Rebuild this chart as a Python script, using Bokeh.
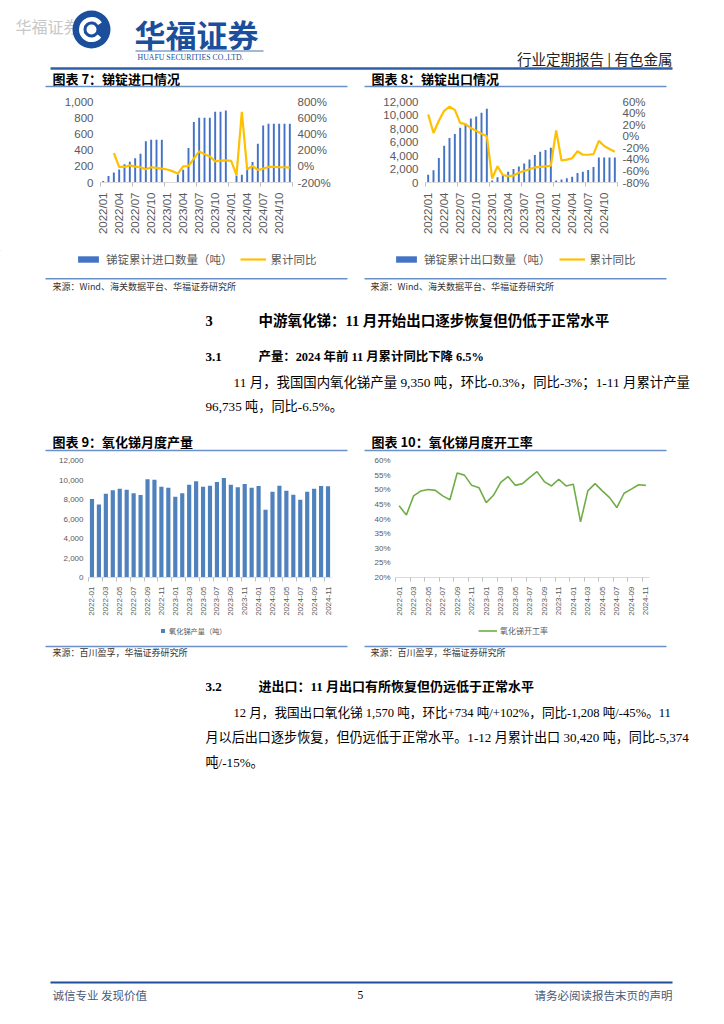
import math
from bokeh.plotting import figure
from bokeh.models import (Range1d, LinearAxis, FixedTicker, Legend, LegendItem, Spacer,
                          NumeralTickFormatter, PrintfTickFormatter)
from bokeh.layouts import column, row
from bokeh.core.properties import value
from bokeh.embed import file_html
from bokeh.resources import INLINE

# ---------------- data ----------------
months_slash = [f"{y}/{m:02d}" for y in (2022, 2023, 2024) for m in range(1, 13)]
import_qty = [20, 80, 125, 160, 225, 255, 300, 355, 510, 527, 527, 527,
              3, 3, 100, 158, 427, 747, 800, 800, 800, 875, 875, 888,
              0, 85, 95, 160, 253, 477, 705, 726, 726, 726, 726, 726]
import_yoy = [None, None, 163, -8, -8, 12, -4, -12, -37, -12, -20, -29,
              -40, -60, -90, 0, 4, 94, 184, 150, 122, 61, 69, 73,
              66, -110, 673, -37, 4, -45, -29, -8, -8, -12, -12, -16]
export_qty = [1165, 1800, 3640, 5440, 6600, 7180, 8100, 8690, 9470, 9760, 10340, 10920,
              290, 780, 1165, 1600, 1990, 2380, 2820, 3400, 4080, 4560, 4800, 5150,
              290, 440, 630, 870, 1410, 1600, 1840, 2280, 3690, 3690, 3690, 3690]
export_yoy = [37.8, 5.6, 26.7, 44, 51, 45.6, 23, 21, 14, 9.4, 4.4, 0,
              -73, -52, -67, -69, -68, -63, -60, -57, -54, -53, -52, -51,
              10, -42, -40.5, -38, -26, -32, -32, -31, -8, -17, -22, -27]
months_dash = [f"{y}-{m:02d}" for y in (2022, 2023, 2024) for m in range(1, 13)][:35]
oxide_output = [8050, 7500, 8600, 8940, 9110, 9010, 8630, 8460, 10070, 10030, 9320, 9210,
                8290, 8630, 9520, 9860, 9320, 9420, 9790, 10200, 9520, 9250, 9590, 9210,
                9380, 6950, 8800, 9420, 8900, 8490, 7980, 8800, 9110, 9380, 9350]
oxide_util = [44.5, 41.4, 47.9, 49.6, 50.1, 49.8, 47.9, 46.6, 55.7, 55.0, 51.5, 50.7,
              45.6, 48.1, 52.5, 54.5, 51.5, 52.1, 54.2, 56.2, 52.8, 51.3, 53.6, 51.3,
              51.9, 39.0, 49.6, 52.1, 49.6, 47.3, 43.9, 48.8, 50.2, 51.7, 51.5]

legend_import = ["锑锭累计进口数量（吨）", "累计同比"]
legend_export = ["锑锭累计出口数量（吨）", "累计同比"]
legend_output = "氧化锑产量（吨）"
legend_util = "氧化锑开工率"

CJK = "Noto Sans CJK SC"
BODY = "Liberation Serif, Noto Sans CJK SC"
NUM = "Liberation Sans"
GRAY = "#595959"
BLUE_LINE = "#6A8FCB"
BAR1 = "#4472C4"
BAR2 = "#4F81BD"
YELLOW = "#FFC000"
GREEN = "#70AD47"
PAGE_W = 716


def blank(top, height, width=PAGE_W, left=0):
    p = figure(width=width, height=height, x_range=Range1d(left, left + width),
               y_range=Range1d(top + height, top), output_backend="svg",
               toolbar_location=None, min_border=0, x_axis_location=None,
               y_axis_location=None, outline_line_color=None)
    p.xgrid.visible = False
    p.ygrid.visible = False
    return p


def txt(p, x, y, s, size, font=CJK, color="#000000", style="normal", align="left"):
    p.text(x=[x], y=[y], text=[s], text_font=value(font), text_font_size=f"{size}px",
           text_color=color, text_font_style=style, text_align=align,
           text_baseline="middle")


def hline(p, x0, x1, y, color, width):
    p.segment(x0=[x0], y0=[y], x1=[x1], y1=[y], line_color=color, line_width=width)


def add_legend(p, entries, loc, fs, gw, gh, lh, spacing=8, standoff=5):
    """Legend keys for a chart, drawn in the page strip under the chart.
    The key renderers hold a single point placed outside the strip's visible range."""
    items = []
    for label, kind, color, lw in entries:
        if kind == "bar":
            r = p.vbar(x=[-500], top=[-500], bottom=[-510], width=1, fill_color=color,
                       line_color=None)
        else:
            r = p.line(x=[-510, -500], y=[-500, -500], line_color=color, line_width=lw)
        items.append(LegendItem(label=label, renderers=[r]))
    p.add_layout(Legend(items=items, orientation="horizontal", location=loc,
                        glyph_width=gw, glyph_height=gh, label_text_font_size=fs,
                        label_text_color=GRAY, label_text_font=CJK,
                        label_height=lh, label_standoff=standoff, spacing=spacing,
                        padding=0, margin=0, border_line_color=None,
                        background_fill_alpha=0))


def style_chart(p, fs, standoff_y, standoff_x):
    p.xgrid.visible = False
    p.ygrid.visible = False
    for ax in p.yaxis:
        ax.axis_line_color = None
        ax.major_tick_line_color = None
        ax.minor_tick_line_color = None
        ax.major_tick_out = 0
        ax.major_tick_in = 0
        ax.major_label_text_font = NUM
        ax.major_label_text_font_size = fs
        ax.major_label_text_color = GRAY
        ax.major_label_standoff = standoff_y
    for ax in p.xaxis:
        ax.axis_line_color = "#D9D9D9"
        ax.major_tick_line_color = None
        ax.major_tick_out = 0
        ax.major_tick_in = 0
        ax.minor_tick_line_color = "#BFBFBF"
        ax.minor_tick_out = 4
        ax.minor_tick_in = 0
        ax.major_label_text_font = NUM
        ax.major_label_text_font_size = fs
        ax.major_label_text_color = GRAY
        ax.major_label_orientation = math.pi / 2
        ax.major_label_standoff = standoff_x


def trade_chart(qty, yoy, yr, yr2, yticks, yticks2, border_l, border_r):
    n = len(qty)
    p = figure(width=300, height=158, x_range=Range1d(-0.5, n - 0.5), y_range=Range1d(*yr),
               output_backend="svg", toolbar_location=None, min_border_left=border_l,
               min_border_right=border_r, min_border_top=9, min_border_bottom=68,
               outline_line_color=None)
    p.extra_y_ranges = {"yoy": Range1d(*yr2)}
    p.vbar(x=list(range(n)), top=qty, width=0.36, fill_color=BAR1, line_color=None)
    pts = [(i, v) for i, v in enumerate(yoy) if v is not None]
    p.line(x=[a for a, _ in pts], y=[b for _, b in pts], y_range_name="yoy",
           line_color=YELLOW, line_width=2.2)
    p.add_layout(LinearAxis(y_range_name="yoy", ticker=FixedTicker(ticks=yticks2),
                            formatter=PrintfTickFormatter(format="%d%%")), "right")
    p.yaxis[0].ticker = FixedTicker(ticks=yticks)
    p.yaxis[0].formatter = NumeralTickFormatter(format="0,0")
    major = list(range(0, n, 3))
    p.xaxis.ticker = FixedTicker(ticks=major, minor_ticks=[k - 0.5 for k in range(0, n + 1, 6)])
    p.xaxis.major_label_overrides = {i: months_slash[i] for i in major}
    style_chart(p, "11.5px", 7, 6)
    p.yaxis[1].major_label_standoff = 5
    return p


p7 = trade_chart(import_qty, import_yoy, (0, 1000), (-200, 800),
                 [0, 200, 400, 600, 800, 1000], [-200, 0, 200, 400, 600, 800], 52, 56)
p8 = trade_chart(export_qty, export_yoy, (0, 12000), (-80, 60),
                 [0, 2000, 4000, 6000, 8000, 10000, 12000], [-80, -60, -40, -20, 0, 20, 40, 60],
                 59, 49)

# chart 9 : monthly output
n2 = len(oxide_output)
p9 = figure(width=310, height=167, x_range=Range1d(-0.5, n2 - 0.5), y_range=Range1d(0, 12000),
            output_backend="svg", toolbar_location=None, min_border_left=48,
            min_border_right=19, min_border_top=7, min_border_bottom=43,
            outline_line_color=None)
p9.vbar(x=list(range(n2)), top=oxide_output, width=0.6, fill_color=BAR2, line_color=None)
p9.yaxis.ticker = FixedTicker(ticks=[0, 2000, 4000, 6000, 8000, 10000, 12000])
p9.yaxis.formatter = NumeralTickFormatter(format="0,0")
major2 = list(range(0, n2, 2))
p9.xaxis.ticker = FixedTicker(ticks=major2, minor_ticks=[k - 0.5 for k in range(0, n2 + 1, 2)])
p9.xaxis.major_label_overrides = {i: months_dash[i] for i in major2}
style_chart(p9, "8px", 5, 5)

# chart 10 : utilisation
p10 = figure(width=350, height=167, x_range=Range1d(-0.5, n2 - 0.5), y_range=Range1d(20, 60),
             output_backend="svg", toolbar_location=None, min_border_left=45,
             min_border_right=51, min_border_top=7, min_border_bottom=43,
             outline_line_color=None)
p10.line(x=list(range(n2)), y=oxide_util, line_color=GREEN, line_width=1.6)
p10.yaxis.ticker = FixedTicker(ticks=[20, 25, 30, 35, 40, 45, 50, 55, 60])
p10.yaxis.formatter = PrintfTickFormatter(format="%d%%")
p10.xaxis.ticker = FixedTicker(ticks=major2, minor_ticks=[k - 0.5 for k in range(0, n2 + 1, 2)])
p10.xaxis.major_label_overrides = {i: months_dash[i] for i in major2}
style_chart(p10, "8px", 5, 5)

# ---------------- page texts ----------------
top = blank(0, 92)
txt(top, 15, 25, "华福证券", 16, color="#C8C8C8")
top.circle(x=[91], y=[29], radius=19, fill_color="#1B4F9C", line_color=None)
top.annular_wedge(x=[91], y=[29], inner_radius=8, outer_radius=12.5,
                  start_angle=0.6, end_angle=5.6, fill_color="white", line_color=None)
top.circle(x=[91], y=[29], radius=5, fill_color="white", line_color=None)
txt(top, 134, 33, "华福证券", 31, color="#1B4F9C", style="bold")
hline(top, 135, 263, 50.5, "#1B4F9C", 0.8)
txt(top, 137, 57, "HUAFU SECURITIES CO.,LTD.", 7.8, font="Liberation Serif", color="#1B4F9C")
txt(top, 672, 58, "行业定期报告 | 有色金属", 14.5, color="#222222", align="right")
hline(top, 50, 672, 68, "#2F5FA8", 2.5)
txt(top, 52, 78, "图表 7：锑锭进口情况", 13, style="bold")
txt(top, 371, 78, "图表 8：锑锭出口情况", 13, style="bold")
hline(top, 45, 347, 86, BLUE_LINE, 1.5)
hline(top, 364, 666, 86, BLUE_LINE, 1.5)

MID_TOP, MID_H = 250, 203
mid = blank(MID_TOP, MID_H)
add_legend(mid, [(legend_import[0], "bar", BAR1, 0), (legend_import[1], "line", YELLOW, 2.2)],
           (75, MID_H - 17), "11.5px", 26, 8, 16, spacing=7)
add_legend(mid, [(legend_export[0], "bar", BAR1, 0), (legend_export[1], "line", YELLOW, 2.2)],
           (393, MID_H - 17), "11.5px", 26, 8, 16, spacing=8)
hline(mid, 45, 347, 278.3, BLUE_LINE, 1.5)
hline(mid, 364, 666, 278.3, BLUE_LINE, 1.5)
txt(mid, 52, 286, "来源：Wind、海关数据平台、华福证券研究所", 9, color="#333333")
txt(mid, 370, 286, "来源：Wind、海关数据平台、华福证券研究所", 9, color="#333333")
txt(mid, 205, 320, "3", 14.5, font=BODY, style="bold")
txt(mid, 258, 320, "中游氧化锑：11 月开始出口逐步恢复但仍低于正常水平", 14.5, font=BODY, style="bold")
txt(mid, 205, 356, "3.1", 13, font=BODY, style="bold")
txt(mid, 258, 356, "产量：2024 年前 11 月累计同比下降 6.5%", 12.4, font=BODY, style="bold")
txt(mid, 233, 382, "11 月，我国国内氧化锑产量 9,350 吨，环比-0.3%，同比-3%；1-11 月累计产量", 13.4, font=BODY)
txt(mid, 205, 406, "96,735 吨，同比-6.5%。", 13.2, font=BODY)
txt(mid, 52, 440.5, "图表 9：氧化锑月度产量", 13, style="bold")
txt(mid, 371, 440.5, "图表 10：氧化锑月度开工率", 13, style="bold")
hline(mid, 45, 347, 450, BLUE_LINE, 1.5)
hline(mid, 364, 666, 450, BLUE_LINE, 1.5)

BOT_TOP, BOT_H = 620, 396
bot = blank(BOT_TOP, BOT_H)
add_legend(bot, [(legend_output, "bar", BAR2, 0)], (160, BOT_H - 16), "7.2px", 5, 5, 11,
           standoff=4)
add_legend(bot, [(legend_util, "line", GREEN, 1.6)], (478, BOT_H - 16), "8px", 19, 5, 11,
           standoff=3)
hline(bot, 45, 347, 646, BLUE_LINE, 1.5)
hline(bot, 364, 666, 646, BLUE_LINE, 1.5)
txt(bot, 52, 652, "来源：百川盈孚，华福证券研究所", 9, color="#333333")
txt(bot, 370, 652, "来源：百川盈孚，华福证券研究所", 9, color="#333333")
txt(bot, 205, 686, "3.2", 13, font=BODY, style="bold")
txt(bot, 258, 686, "进出口：11 月出口有所恢复但仍远低于正常水平", 13, font=BODY, style="bold")
txt(bot, 233, 712, "12 月，我国出口氧化锑 1,570 吨，环比+734 吨/+102%，同比-1,208 吨/-45%。11", 12.6, font=BODY)
txt(bot, 205, 737, "月以后出口逐步恢复，但仍远低于正常水平。1-12 月累计出口 30,420 吨，同比-5,374", 13.1, font=BODY)
txt(bot, 205, 762, "吨/-15%。", 13.1, font=BODY)
hline(bot, 50, 672, 982, "#1F4E9A", 2)
txt(bot, 52, 994, "诚信专业  发现价值", 11.5, color="#4A5A7A")
txt(bot, 357, 994, "5", 11.5, font="Liberation Serif")
txt(bot, 672, 994, "请务必阅读报告末页的声明", 11.5, color="#4A5A7A", align="right")

layout = column(
    top,
    row(Spacer(width=48, height=158), p7, Spacer(width=18, height=158), p8),
    mid,
    row(Spacer(width=40, height=167), p9, p10),
    bot,
)

open("out.html", "w").write(file_html(layout, INLINE))
